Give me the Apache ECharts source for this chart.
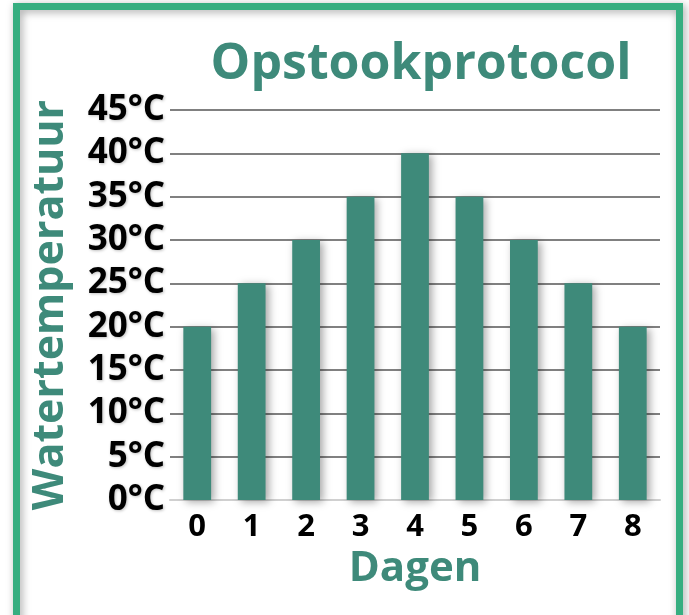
<!DOCTYPE html>
<html lang="nl">
<head>
    <meta charset="UTF-8">
    <title>Opstookprotocol</title>
    <script src="https://cdn.jsdelivr.net/npm/echarts@6/dist/echarts.min.js"></script>
    <style>
        body { margin: 0; background: #fff; }
        #wrap { width: 689px; height: 615px; }
    </style>
</head>
<body>
<div id="wrap"></div>
<script>
    var dagen = ['0', '1', '2', '3', '4', '5', '6', '7', '8'];
    var temperatuur = [20, 25, 30, 35, 40, 35, 30, 25, 20];

    var groen = '#3E8A7A';
    var kader = '#36AE80';
    var fontFam = '"Open Sans", "Noto Sans", sans-serif';

    var myChart = echarts.init(document.getElementById('wrap'));

    var option = {
        backgroundColor: '#fff',
        animation: false,
        title: {
            text: 'Opstookprotocol',
            left: 416,
            top: 35,
            textAlign: 'center',
            textStyle: {
                fontFamily: fontFam,
                fontSize: 50,
                fontWeight: 'bold',
                color: groen
            }
        },
        graphic: [{
            type: 'rect',
            shape: { x: 16.5, y: 6.5, width: 663, height: 640 },
            style: {
                fill: null,
                stroke: kader,
                lineWidth: 7,
                shadowColor: 'rgba(0,0,0,0.35)',
                shadowBlur: 8,
                shadowOffsetX: 2,
                shadowOffsetY: 2
            }
        }],
        grid: {
            left: 170,
            right: 29,
            top: 110,
            bottom: 115
        },
        xAxis: {
            type: 'category',
            data: dagen,
            name: 'Dagen',
            nameLocation: 'middle',
            nameGap: 46,
            nameTextStyle: {
                fontFamily: fontFam,
                fontSize: 42,
                fontWeight: 'bold',
                color: groen
            },
            axisLine: { lineStyle: { color: '#d0d0d0', width: 2 } },
            axisTick: { show: false },
            axisLabel: {
                margin: 12,
                fontFamily: fontFam,
                fontSize: 31,
                fontWeight: 'bold',
                color: '#000'
            }
        },
        yAxis: {
            type: 'value',
            min: 0,
            max: 45,
            interval: 5,
            name: 'Watertemperatuur',
            nameLocation: 'middle',
            nameGap: 98,
            nameRotate: 90,
            nameTextStyle: {
                fontFamily: fontFam,
                fontSize: 43,
                fontWeight: 'bold',
                color: groen
            },
            axisLine: { show: false },
            axisTick: { show: false },
            splitLine: { lineStyle: { color: '#808080', width: 2 } },
            axisLabel: {
                margin: 5,
                formatter: '{value}°C',
                fontFamily: fontFam,
                fontSize: 35,
                fontWeight: 'bold',
                color: '#000',
                textShadowColor: 'rgba(0,0,0,0.25)',
                textShadowBlur: 3,
                textShadowOffsetX: 1,
                textShadowOffsetY: 1
            }
        },
        series: [{
            name: 'Watertemperatuur',
            type: 'bar',
            data: temperatuur,
            barWidth: '51%',
            itemStyle: {
                color: groen,
                shadowColor: 'rgba(0,0,0,0.35)',
                shadowBlur: 8,
                shadowOffsetX: 3,
                shadowOffsetY: 2
            }
        }]
    };

    myChart.setOption(option);
</script>
</body>
</html>
